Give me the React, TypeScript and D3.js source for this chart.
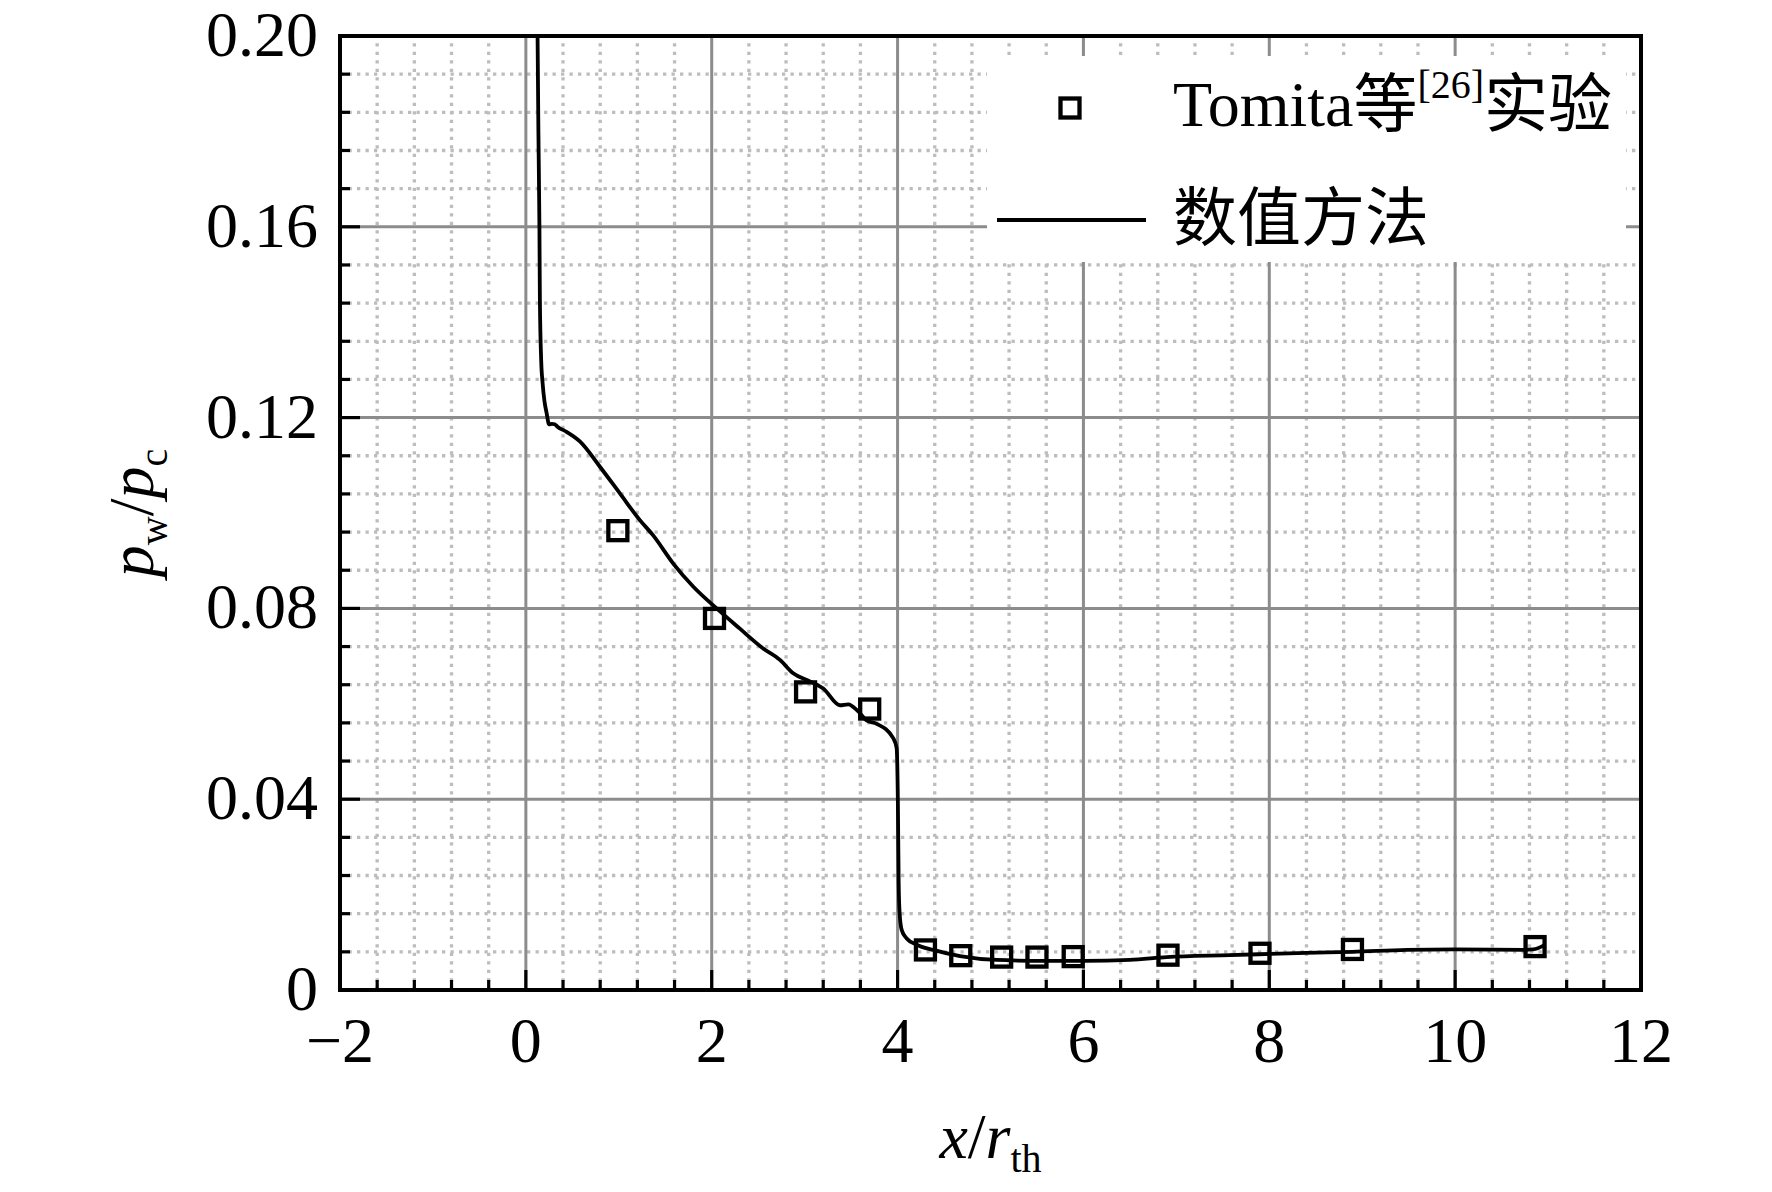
import React from "react";
import * as d3 from "d3";

const W = 1772;
const H = 1192;

const xMajorTicks = [-2, 0, 2, 4, 6, 8, 10, 12];
const xTickLabels = ["−2", "0", "2", "4", "6", "8", "10", "12"];
const yMajorTicks = [0, 0.04, 0.08, 0.12, 0.16, 0.2];
const yTickLabels = ["0", "0.04", "0.08", "0.12", "0.16", "0.20"];

// Tomita et al. experiment
const expX = [0.99, 2.03, 3.01, 3.7, 4.3, 4.68, 5.12, 5.5, 5.89, 6.91, 7.9, 8.895, 10.86];
const expY = [0.0963, 0.0779, 0.0625, 0.0589, 0.0084, 0.0072, 0.0069, 0.0069, 0.007, 0.0073, 0.0077, 0.0085, 0.0091];

// numerical method
const numX = [
  0.126, 0.135, 0.146, 0.151, 0.165, 0.18, 0.2, 0.223, 0.25, 0.28, 0.31, 0.34, 0.438, 0.581,
  0.797, 1.012, 1.227, 1.37, 1.586, 1.8, 2.053, 2.3, 2.554, 2.734, 2.877, 3.057, 3.2, 3.38,
  3.469, 3.577, 3.667, 3.775, 3.953, 3.99, 4.003, 4.012, 4.022, 4.044, 4.098, 4.206, 4.384,
  4.672, 5.067, 5.605, 6.006, 6.5, 6.897, 7.578, 8.4, 8.895, 9.48, 10.0, 10.73, 10.84, 10.96,
];
const numY = [
  0.2, 0.18, 0.16, 0.1447, 0.132, 0.1273, 0.1235, 0.121, 0.1186, 0.1187, 0.1186, 0.1181, 0.117,
  0.115, 0.1097, 0.1041, 0.0985, 0.0953, 0.0894, 0.0846, 0.08, 0.0758, 0.0716, 0.0692, 0.0664,
  0.0647, 0.0632, 0.0597, 0.0599, 0.0584, 0.0565, 0.0558, 0.0528, 0.0507, 0.0398, 0.0224,
  0.0161, 0.0126, 0.0108, 0.0095, 0.0084, 0.0071, 0.0063, 0.0061, 0.0061, 0.0063, 0.0069,
  0.0073, 0.0078, 0.008, 0.0084, 0.0085, 0.0084, 0.0085, 0.0094,
];

const SERIF = "'Liberation Serif', 'Times New Roman', serif";
const CJK = "'Noto Sans CJK SC', 'Liberation Serif', serif";

export default function App() {
  const left = 340;
  const right = 1641;
  const top = 36;
  const bottom = 990;

  const x = d3.scaleLinear().domain([-2, 12]).range([left, right]);
  const y = d3.scaleLinear().domain([0, 0.2]).range([bottom, top]);

  const xAll = d3.range(0, 36).map((i) => -2 + i * 0.4);
  const xMinor = xAll.filter((v) => Math.abs(v / 2 - Math.round(v / 2)) > 1e-6);
  const yAll = d3.range(0, 26).map((i) => i * 0.008);
  const yMinor = yAll.filter((v) => Math.abs(v / 0.04 - Math.round(v / 0.04)) > 1e-6);

  const pts: [number, number][] = numX.map((v, i) => [v, numY[i]]);
  const line = d3
    .line<[number, number]>()
    .x((d) => x(d[0]))
    .y((d) => y(d[1]))
    .curve(d3.curveMonotoneX);

  const sq = 19;

  return (
    <div style={{ position: "absolute", left: 0, top: 0 }}>
      <svg width={W} height={H} style={{ display: "block", background: "#fff" }}>
        <rect x={0} y={0} width={W} height={H} fill="#fff" />
        {/* minor dotted grid */}
        <g stroke="#bdbdbd" strokeWidth={3.3} strokeDasharray="3.3 5.2">
          {xMinor.map((v, i) => (
            <line key={"xm" + i} x1={x(v)} x2={x(v)} y1={bottom} y2={top} />
          ))}
          {yMinor.map((v, i) => (
            <line key={"ym" + i} x1={left} x2={right} y1={y(v)} y2={y(v)} />
          ))}
        </g>
        {/* major grid */}
        <g stroke="#8c8c8c" strokeWidth={3}>
          {xMajorTicks.map((v, i) => (
            <line key={"xM" + i} x1={x(v)} x2={x(v)} y1={bottom} y2={top} />
          ))}
          {yMajorTicks.map((v, i) => (
            <line key={"yM" + i} x1={left} x2={right} y1={y(v)} y2={y(v)} />
          ))}
        </g>
        {/* legend background */}
        <rect x={987} y={56} width={639} height={206} fill="#fff" />

        {/* ticks */}
        <g stroke="#000" strokeWidth={3.2}>
          {xMinor.map((v, i) => (
            <line key={"xt" + i} x1={x(v)} x2={x(v)} y1={bottom} y2={bottom - 10} />
          ))}
          {xMajorTicks.map((v, i) => (
            <line key={"xT" + i} x1={x(v)} x2={x(v)} y1={bottom} y2={bottom - 20} />
          ))}
          {yMinor.map((v, i) => (
            <line key={"yt" + i} x1={left} x2={left + 10} y1={y(v)} y2={y(v)} />
          ))}
          {yMajorTicks.map((v, i) => (
            <line key={"yT" + i} x1={left} x2={left + 20} y1={y(v)} y2={y(v)} />
          ))}
        </g>

        {/* numerical curve */}
        <path d={line(pts) || ""} fill="none" stroke="#000" strokeWidth={3.8} strokeLinejoin="round" />

        {/* experiment markers */}
        <g fill="none" stroke="#000" strokeWidth={4.3}>
          {expX.map((v, i) => (
            <rect key={"e" + i} x={x(v) - sq / 2} y={y(expY[i]) - sq / 2} width={sq} height={sq} />
          ))}
        </g>

        {/* frame */}
        <rect x={left} y={top} width={right - left} height={bottom - top} fill="none" stroke="#000" strokeWidth={4} />

        {/* tick labels */}
        <g fontFamily={SERIF} fontSize={64} fill="#000">
          {xMajorTicks.map((v, i) => (
            <text key={"xl" + i} x={x(v)} y={1062} textAnchor="middle">
              {xTickLabels[i]}
            </text>
          ))}
          {yMajorTicks.map((v, i) => (
            <text key={"yl" + i} x={318} y={y(v) + 20} textAnchor="end">
              {yTickLabels[i]}
            </text>
          ))}
        </g>

        {/* axis titles */}
        <text x={(left + right) / 2} y={1158} textAnchor="middle" fontFamily={SERIF} fontSize={64}>
          <tspan fontStyle="italic">x</tspan>
          <tspan>/</tspan>
          <tspan fontStyle="italic">r</tspan>
          <tspan fontSize={40} dy={14}>th</tspan>
        </text>
        <text
          transform={`translate(153,${(top + bottom) / 2}) rotate(-90)`}
          textAnchor="middle"
          fontFamily={SERIF}
          fontSize={64}
        >
          <tspan fontStyle="italic">p</tspan>
          <tspan fontSize={40} dy={14}>w</tspan>
          <tspan dy={-14}>/</tspan>
          <tspan fontStyle="italic">p</tspan>
          <tspan fontSize={40} dy={14}>c</tspan>
        </text>

        {/* legend */}
        <rect x={1070 - sq / 2} y={108 - sq / 2} width={sq} height={sq} fill="none" stroke="#000" strokeWidth={4.3} />
        <text x={1173} y={126} fontFamily={SERIF} fontSize={64} fill="#000">
          <tspan>Tomita</tspan>
          <tspan fontFamily={CJK}>等</tspan>
          <tspan fontSize={40} dy={-28}>[26]</tspan>
          <tspan fontFamily={CJK} dy={28}>实验</tspan>
        </text>
        <line x1={997} x2={1146} y1={220} y2={220} stroke="#000" strokeWidth={3.8} />
        <text x={1173} y={240} fontFamily={CJK} fontSize={64} fill="#000">
          数值方法
        </text>
      </svg>
    </div>
  );
}
